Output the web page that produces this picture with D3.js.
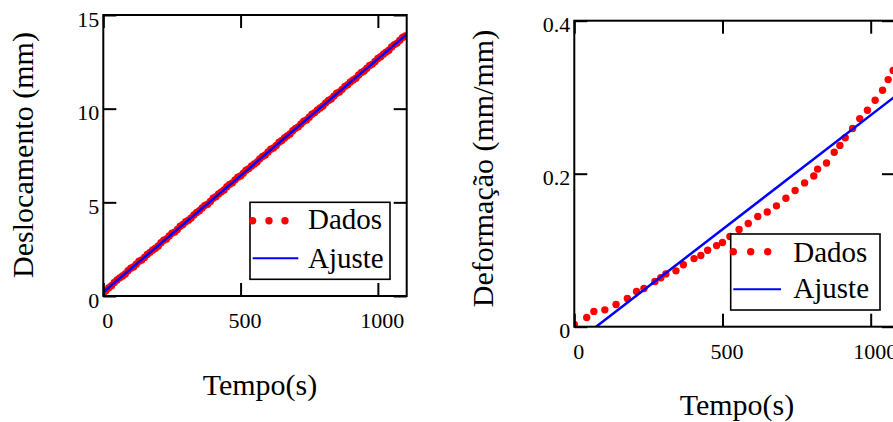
<!DOCTYPE html>
<html>
<head>
<meta charset="utf-8">
<script src="https://cdn.jsdelivr.net/npm/d3@7"></script>
<style>
body { margin: 0; background: #fff; }
text { font-family: "Liberation Serif", "Times New Roman", serif; fill: #000; }
</style>
</head>
<body>
<div id="viz"></div>
<script>
// painel esquerdo: deslocamento
var tempoDesl = [0, 10, 20, 30, 40, 50, 60, 70, 80, 90, 100, 110, 120, 130, 140, 150, 160, 170, 180, 190,
    200, 210, 220, 230, 240, 250, 260, 270, 280, 290, 300, 310, 320, 330, 340, 350, 360, 370, 380, 390,
    400, 410, 420, 430, 440, 450, 460, 470, 480, 490, 500, 510, 520, 530, 540, 550, 560, 570, 580, 590,
    600, 610, 620, 630, 640, 650, 660, 670, 680, 690, 700, 710, 720, 730, 740, 750, 760, 770, 780, 790,
    800, 810, 820, 830, 840, 850, 860, 870, 880, 890, 900, 910, 920, 930, 940, 950, 960, 970, 980, 990,
    1000, 1010, 1020, 1030, 1040, 1050, 1060, 1070, 1080, 1090, 1100];
var dadosDesl = [0.10, 0.30, 0.44, 0.55, 0.72, 0.86, 0.97, 1.07, 1.18, 1.35, 1.48, 1.55, 1.70, 1.86, 1.92, 2.06, 2.22, 2.33, 2.46, 2.55,
    2.67, 2.84, 2.98, 3.04, 3.20, 3.35, 3.41, 3.55, 3.72, 3.82, 3.96, 4.05, 4.16, 4.33, 4.46, 4.55, 4.70, 4.84, 4.90, 5.05,
    5.22, 5.30, 5.45, 5.56, 5.66, 5.83, 5.96, 6.04, 6.20, 6.34, 6.41, 6.55, 6.71, 6.80, 6.94, 7.05, 7.15, 7.32, 7.45, 7.53,
    7.69, 7.83, 7.90, 8.04, 8.21, 8.30, 8.44, 8.55, 8.65, 8.82, 8.95, 9.03, 9.18, 9.33, 9.40, 9.54, 9.70, 9.79, 9.93, 10.04,
    10.14, 10.31, 10.44, 10.52, 10.67, 10.82, 10.89, 11.03, 11.19, 11.28, 11.42, 11.53, 11.63, 11.80, 11.93, 12.01, 12.16, 12.31, 12.38, 12.52,
    12.68, 12.77, 12.91, 13.02, 13.12, 13.29, 13.42, 13.50, 13.65, 13.80, 13.88];
var ajusteDeslT = [0, 1105];
var ajusteDesl = [0.2, 13.96];
var ticksDeslX = [0, 500, 1000];
var ticksDeslY = [0, 5, 10, 15];

// painel direito: deformacao
var tempoDef = [0, 42, 66, 103, 141, 179, 210, 235, 272, 292, 309, 343, 368, 404, 427, 450, 480, 500, 525, 556,
    587, 619, 651, 682, 714, 745, 777, 808, 821, 851, 877, 896, 914, 939, 963, 989, 1015, 1040, 1059, 1076];
var dadosDef = [0.003, 0.012, 0.020, 0.022, 0.029, 0.037, 0.046, 0.050, 0.059, 0.064, 0.069, 0.073, 0.081, 0.089, 0.093, 0.100, 0.106, 0.110, 0.118, 0.127,
    0.135, 0.144, 0.150, 0.158, 0.168, 0.178, 0.188, 0.197, 0.206, 0.214, 0.228, 0.237, 0.247, 0.259, 0.272, 0.283, 0.296, 0.309, 0.323, 0.335];
var ajusteDefT = [0, 1082];
var ajusteDef = [-0.022, 0.301];
var ticksDefX = [0, 500, 1000];
var ticksDefY = [0, 0.2, 0.4];

var svg = d3.select("#viz")
    .append("svg")
    .attr("width", 893)
    .attr("height", 422)
    .style("display", "block");

svg.append("rect").attr("width", 893).attr("height", 422).attr("fill", "#fff");

function drawPanel(p) {
    var x = d3.scaleLinear().domain(p.xDomain).range([p.left, p.right]);
    var y = d3.scaleLinear().domain(p.yDomain).range([p.bottom, p.top]);
    var g = svg.append("g");

    g.append("clipPath").attr("id", p.id)
      .append("rect")
        .attr("x", p.left).attr("y", p.top)
        .attr("width", p.right - p.left).attr("height", p.bottom - p.top);

    var plot = g.append("g").attr("clip-path", "url(#" + p.id + ")");

    plot.selectAll("circle")
        .data(p.t)
        .enter().append("circle")
        .attr("cx", function(d) { return x(d); })
        .attr("cy", function(d, i) { return y(p.dados[i]); })
        .attr("r", 3.7)
        .style("fill", "#ff0000");

    var line = d3.line()
        .x(function(d) { return x(d[0]); })
        .y(function(d) { return y(d[1]); });
    plot.append("path")
        .datum(p.fitT.map(function(d, i) { return [d, p.fit[i]]; }))
        .attr("d", line)
        .style("fill", "none")
        .style("stroke", "#0000ff")
        .style("stroke-width", 2.5);

    // eixos com marcas para dentro nos quatro lados
    var fmt = d3.format("");
    var ax = g.append("g").attr("transform", "translate(0," + p.bottom + ")")
        .call(d3.axisBottom(x).tickValues(p.xTicks).tickFormat(fmt).tickSizeInner(-13).tickSizeOuter(0));
    ax.selectAll("text").attr("y", 32).attr("dy", null).attr("dx", 4);
    g.append("g").attr("transform", "translate(0," + p.top + ")")
        .call(d3.axisTop(x).tickValues(p.xTicks).tickFormat("").tickSizeInner(-13).tickSizeOuter(0));
    var ay = g.append("g").attr("transform", "translate(" + p.left + ",0)")
        .call(d3.axisLeft(y).tickValues(p.yTicks).tickFormat(fmt).tickSizeInner(-13).tickSizeOuter(0).tickPadding(4));
    ay.selectAll("text").attr("dy", "0.5em");
    g.append("g").attr("transform", "translate(" + p.right + ",0)")
        .call(d3.axisRight(y).tickValues(p.yTicks).tickFormat("").tickSizeInner(-13).tickSizeOuter(0));

    g.selectAll(".domain").remove();
    g.selectAll(".tick line").style("stroke", "#000").style("stroke-width", 2);
    g.selectAll(".tick text")
        .style("font-family", "'Liberation Serif', 'Times New Roman', serif")
        .style("font-size", "22px")
        .style("fill", "#000");

    g.append("rect")
        .attr("x", p.left).attr("y", p.top)
        .attr("width", p.right - p.left).attr("height", p.bottom - p.top)
        .style("fill", "none").style("stroke", "#000").style("stroke-width", 2);

    // legenda
    var L = p.legend;
    var lg = g.append("g").attr("transform", "translate(" + L.x + "," + L.y + ")");
    lg.append("rect").attr("width", L.w).attr("height", L.h)
        .style("fill", "#fff").style("stroke", "#000").style("stroke-width", 1.6);
    lg.selectAll("circle").data(L.dots).enter().append("circle")
        .attr("cx", function(d) { return d; }).attr("cy", L.dotY).attr("r", 3.7)
        .style("fill", "#ff0000");
    lg.append("line").attr("x1", L.dots[0]).attr("x2", L.lineEnd)
        .attr("y1", L.lineY).attr("y2", L.lineY)
        .style("stroke", "#0000ff").style("stroke-width", 2);
    lg.append("text").attr("x", L.textX).attr("y", L.base1).style("font-size", "29px").text("Dados");
    lg.append("text").attr("x", L.textX).attr("y", L.base2).style("font-size", "29px").text("Ajuste");

    // titulos
    g.append("text")
        .attr("x", p.xTitle[0]).attr("y", p.xTitle[1])
        .attr("text-anchor", "middle").style("font-size", "30px")
        .text("Tempo(s)");
    g.append("text")
        .attr("transform", "translate(" + p.yTitle[0] + "," + p.yTitle[1] + ") rotate(-90)")
        .attr("text-anchor", "middle").style("font-size", "30px")
        .text(p.yLabel);
}

drawPanel({
    id: "clipDesl",
    left: 103.3, right: 406.7, top: 15, bottom: 296,
    xDomain: [0, 1105], yDomain: [0, 15],
    t: tempoDesl, dados: dadosDesl, fitT: ajusteDeslT, fit: ajusteDesl,
    xTicks: ticksDeslX, yTicks: ticksDeslY,
    legend: { x: 250, y: 202.3, w: 140, h: 77, dots: [2.7, 19, 35], dotY: 18.4,
        lineY: 56, lineEnd: 48.3, textX: 58, base1: 27, base2: 66 },
    xTitle: [260, 395], yTitle: [33, 155], yLabel: "Deslocamento (mm)"
});

drawPanel({
    id: "clipDef",
    left: 574.3, right: 895, top: 20.7, bottom: 326.7,
    xDomain: [0, 1082], yDomain: [0, 0.4],
    t: tempoDef, dados: dadosDef, fitT: ajusteDefT, fit: ajusteDef,
    xTicks: ticksDefX, yTicks: ticksDefY,
    legend: { x: 730.7, y: 234, w: 149.3, h: 76, dots: [2.6, 20, 37], dotY: 17.7,
        lineY: 55.3, lineEnd: 50.3, textX: 62.6, base1: 27.7, base2: 64.3 },
    xTitle: [737, 415], yTitle: [493, 168.5], yLabel: "Deformação (mm/mm)"
});
</script>
</body>
</html>
